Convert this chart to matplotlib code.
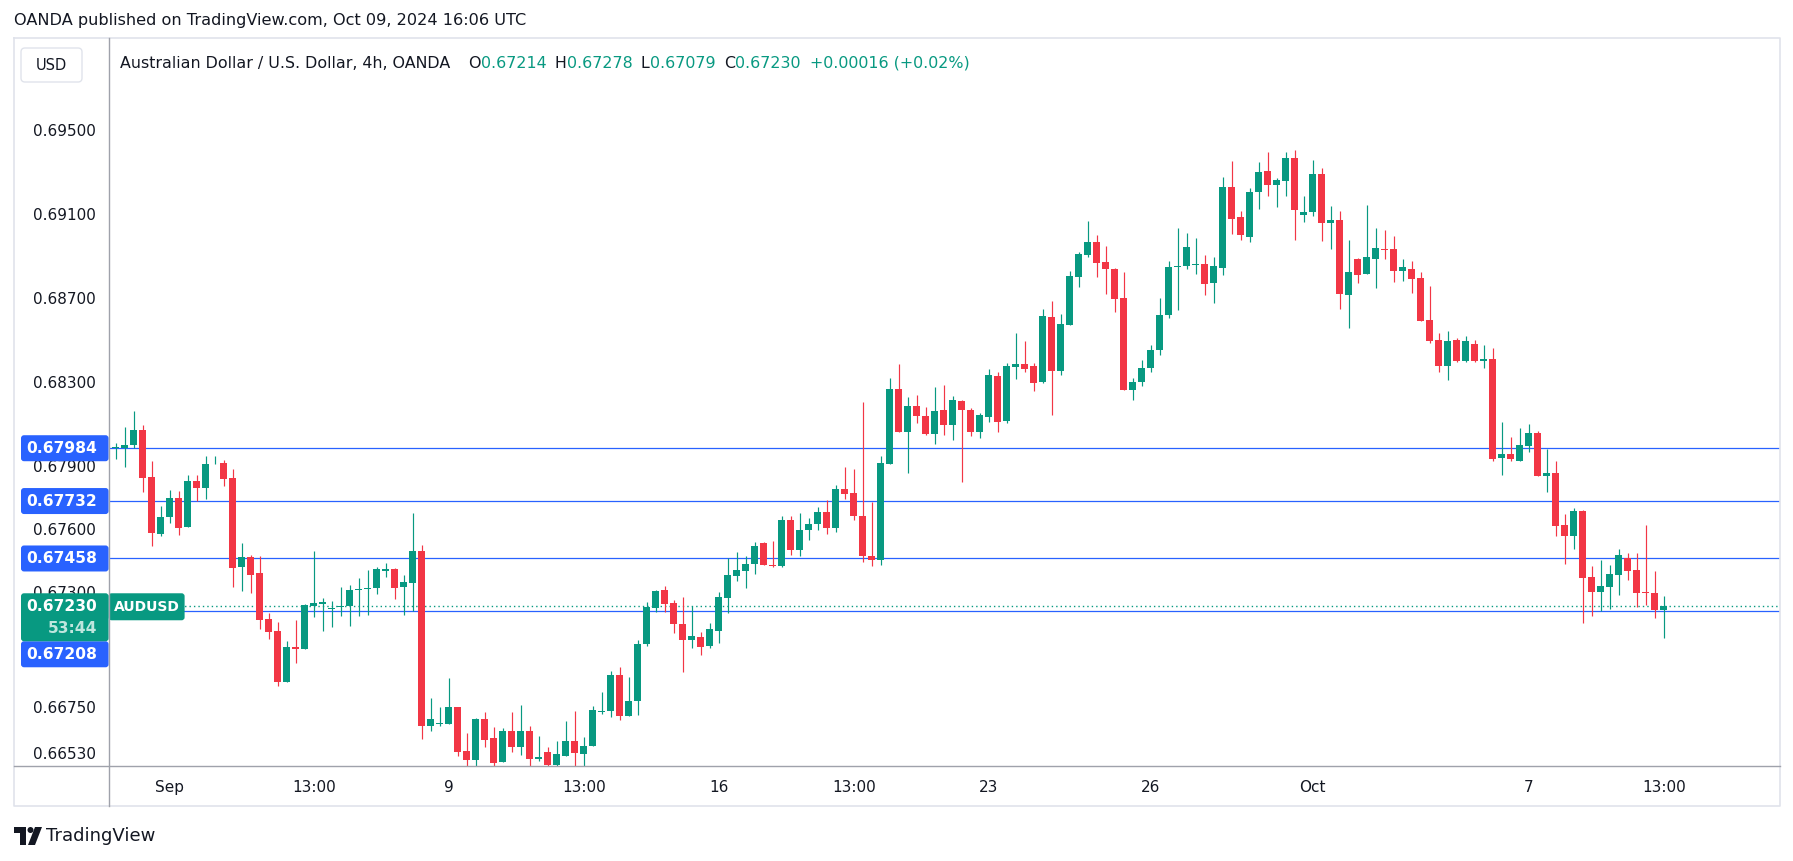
import numpy as np
import matplotlib
matplotlib.use('Agg')
import matplotlib.pyplot as plt
from matplotlib.patches import FancyBboxPatch, Polygon, Circle

# AUDUSD 4h candles, OANDA, Aug 29 17:00 -> Oct 09 13:00 (UTC)
opens = [0.68034, 0.67984, 0.67986, 0.67999, 0.68071, 0.67847, 0.67576, 0.67657, 0.67747, 0.67610,
         0.67828, 0.67796, 0.67907, 0.67913, 0.67842, 0.67419, 0.67465, 0.67389, 0.67169, 0.67112,
         0.66870, 0.67036, 0.67028, 0.67233, 0.67242, 0.67215, 0.67225, 0.67233, 0.67308, 0.67312,
         0.67317, 0.67400, 0.67408, 0.67323, 0.67343, 0.67494, 0.66660, 0.66670, 0.66670, 0.66750,
         0.66540, 0.66497, 0.66692, 0.66602, 0.66489, 0.66635, 0.66560, 0.66635, 0.66503, 0.66535,
         0.66473, 0.66517, 0.66587, 0.66527, 0.66564, 0.66726, 0.66731, 0.66902, 0.66708, 0.66778,
         0.67050, 0.67222, 0.67308, 0.67246, 0.67147, 0.67071, 0.67084, 0.67040, 0.67112, 0.67271,
         0.67374, 0.67398, 0.67432, 0.67532, 0.67427, 0.67422, 0.67642, 0.67499, 0.67594, 0.67623,
         0.67680, 0.67603, 0.67789, 0.67770, 0.67661, 0.67470, 0.67451, 0.67910, 0.68266, 0.68063,
         0.68185, 0.68138, 0.68053, 0.68166, 0.68096, 0.68209, 0.68166, 0.68061, 0.68133, 0.68328,
         0.68114, 0.68371, 0.68386, 0.68376, 0.68300, 0.68610, 0.68352, 0.68572, 0.68801, 0.68906,
         0.68968, 0.68872, 0.68839, 0.68701, 0.68262, 0.68300, 0.68367, 0.68453, 0.68619, 0.68848,
         0.68853, 0.68859, 0.68864, 0.68772, 0.68844, 0.69230, 0.69087, 0.68991, 0.69206, 0.69306,
         0.69240, 0.69259, 0.69368, 0.69098, 0.69111, 0.69292, 0.69060, 0.69073, 0.68715, 0.68887,
         0.68815, 0.68887, 0.68934, 0.68934, 0.68829, 0.68839, 0.68796, 0.68596, 0.68500, 0.68376,
         0.68500, 0.68400, 0.68481, 0.68401, 0.68410, 0.67939, 0.67957, 0.67923, 0.67995, 0.68057,
         0.67851, 0.67866, 0.67619, 0.67567, 0.67686, 0.67370, 0.67298, 0.67322, 0.67379, 0.67460,
         0.67403, 0.67298, 0.67293, 0.67214]
highs = [0.68042, 0.68010, 0.68084, 0.68162, 0.68095, 0.67923, 0.67708, 0.67785, 0.67780, 0.67856,
         0.67856, 0.67947, 0.67947, 0.67928, 0.67885, 0.67530, 0.67475, 0.67470, 0.67197, 0.67156,
         0.67064, 0.67165, 0.67241, 0.67494, 0.67270, 0.67255, 0.67322, 0.67332, 0.67365, 0.67403,
         0.67419, 0.67436, 0.67413, 0.67379, 0.67675, 0.67522, 0.66793, 0.66750, 0.66889, 0.66750,
         0.66626, 0.66697, 0.66726, 0.66654, 0.66649, 0.66726, 0.66759, 0.66659, 0.66611, 0.66559,
         0.66587, 0.66683, 0.66731, 0.66606, 0.66754, 0.66821, 0.66921, 0.66940, 0.66893, 0.67069,
         0.67250, 0.67308, 0.67327, 0.67260, 0.67274, 0.67231, 0.67107, 0.67150, 0.67298, 0.67460,
         0.67489, 0.67470, 0.67537, 0.67537, 0.67541, 0.67661, 0.67661, 0.67675, 0.67651, 0.67704,
         0.67737, 0.67809, 0.67894, 0.67885, 0.68204, 0.67727, 0.67947, 0.68319, 0.68386, 0.68228,
         0.68238, 0.68181, 0.68276, 0.68286, 0.68233, 0.68214, 0.68176, 0.68152, 0.68362, 0.68348,
         0.68390, 0.68534, 0.68495, 0.68390, 0.68648, 0.68686, 0.68624, 0.68829, 0.68920, 0.69068,
         0.69001, 0.68949, 0.68844, 0.68825, 0.68319, 0.68405, 0.68476, 0.68700, 0.68877, 0.69034,
         0.69011, 0.68987, 0.68906, 0.68896, 0.69278, 0.69354, 0.69116, 0.69225, 0.69349, 0.69397,
         0.69273, 0.69397, 0.69407, 0.69187, 0.69359, 0.69321, 0.69140, 0.69116, 0.68977, 0.68891,
         0.69144, 0.69034, 0.69025, 0.68996, 0.68887, 0.68877, 0.68825, 0.68758, 0.68534, 0.68543,
         0.68510, 0.68519, 0.68500, 0.68476, 0.68462, 0.68109, 0.68038, 0.68080, 0.68100, 0.68066,
         0.67982, 0.67923, 0.67672, 0.67697, 0.67689, 0.67422, 0.67452, 0.67427, 0.67503, 0.67484,
         0.67484, 0.67618, 0.67398, 0.67278]
lows = [0.67976, 0.67933, 0.67896, 0.67986, 0.67777, 0.67519, 0.67567, 0.67629, 0.67571, 0.67610,
        0.67732, 0.67743, 0.67907, 0.67805, 0.67323, 0.67304, 0.67295, 0.67123, 0.67075, 0.66851,
        0.66870, 0.66961, 0.67028, 0.67180, 0.67114, 0.67133, 0.67185, 0.67137, 0.67185, 0.67188,
        0.67290, 0.67371, 0.67266, 0.67190, 0.67208, 0.66596, 0.66637, 0.66660, 0.66670, 0.66517,
        0.66468, 0.66468, 0.66560, 0.66468, 0.66489, 0.66535, 0.66522, 0.66468, 0.66492, 0.66463,
        0.66463, 0.66517, 0.66468, 0.66468, 0.66564, 0.66718, 0.66703, 0.66689, 0.66708, 0.66711,
        0.67041, 0.67205, 0.67205, 0.67104, 0.66918, 0.67031, 0.66999, 0.67031, 0.67056, 0.67199,
        0.67351, 0.67317, 0.67384, 0.67427, 0.67417, 0.67417, 0.67475, 0.67470, 0.67546, 0.67594,
        0.67575, 0.67584, 0.67742, 0.67642, 0.67441, 0.67422, 0.67427, 0.67910, 0.68063, 0.67867,
        0.68106, 0.68048, 0.68006, 0.68048, 0.68025, 0.67823, 0.68042, 0.68033, 0.68109, 0.68061,
        0.68104, 0.68314, 0.68348, 0.68257, 0.68295, 0.68142, 0.68333, 0.68572, 0.68753, 0.68896,
        0.68801, 0.68720, 0.68634, 0.68262, 0.68214, 0.68281, 0.68348, 0.68429, 0.68605, 0.68643,
        0.68839, 0.68815, 0.68715, 0.68677, 0.68810, 0.69006, 0.68977, 0.68968, 0.69125, 0.69187,
        0.69135, 0.69187, 0.68977, 0.69063, 0.69092, 0.68972, 0.68934, 0.68648, 0.68557, 0.68772,
        0.68815, 0.68748, 0.68887, 0.68777, 0.68782, 0.68725, 0.68591, 0.68486, 0.68348, 0.68309,
        0.68395, 0.68395, 0.68395, 0.68368, 0.67923, 0.67856, 0.67923, 0.67923, 0.67966, 0.67851,
        0.67775, 0.67567, 0.67433, 0.67504, 0.67150, 0.67184, 0.67208, 0.67217, 0.67284, 0.67355,
        0.67227, 0.67236, 0.67174, 0.67079]
closes = [0.67984, 0.67990, 0.67999, 0.68071, 0.67843, 0.67581, 0.67656, 0.67747, 0.67605, 0.67828,
          0.67796, 0.67909, 0.67910, 0.67839, 0.67414, 0.67465, 0.67381, 0.67166, 0.67109, 0.66870,
          0.67036, 0.67028, 0.67235, 0.67246, 0.67250, 0.67223, 0.67231, 0.67308, 0.67312, 0.67317,
          0.67408, 0.67408, 0.67319, 0.67346, 0.67494, 0.66660, 0.66692, 0.66675, 0.66750, 0.66535,
          0.66497, 0.66692, 0.66594, 0.66484, 0.66635, 0.66560, 0.66635, 0.66503, 0.66511, 0.66473,
          0.66525, 0.66587, 0.66532, 0.66564, 0.66735, 0.66731, 0.66902, 0.66708, 0.66778, 0.67050,
          0.67227, 0.67303, 0.67242, 0.67147, 0.67071, 0.67088, 0.67037, 0.67122, 0.67274, 0.67379,
          0.67403, 0.67432, 0.67518, 0.67427, 0.67422, 0.67642, 0.67499, 0.67594, 0.67623, 0.67680,
          0.67603, 0.67789, 0.67766, 0.67661, 0.67470, 0.67451, 0.67913, 0.68266, 0.68063, 0.68185,
          0.68139, 0.68053, 0.68162, 0.68096, 0.68214, 0.68166, 0.68061, 0.68142, 0.68333, 0.68109,
          0.68376, 0.68386, 0.68362, 0.68295, 0.68615, 0.68352, 0.68577, 0.68805, 0.68910, 0.68968,
          0.68868, 0.68839, 0.68696, 0.68262, 0.68300, 0.68367, 0.68453, 0.68619, 0.68848, 0.68853,
          0.68944, 0.68864, 0.68767, 0.68853, 0.69230, 0.69077, 0.69001, 0.69206, 0.69302, 0.69240,
          0.69263, 0.69368, 0.69120, 0.69111, 0.69292, 0.69060, 0.69073, 0.68720, 0.68825, 0.68810,
          0.68896, 0.68939, 0.68930, 0.68829, 0.68848, 0.68791, 0.68591, 0.68495, 0.68376, 0.68495,
          0.68400, 0.68495, 0.68400, 0.68411, 0.67933, 0.67957, 0.67933, 0.67999, 0.68057, 0.67851,
          0.67866, 0.67614, 0.67567, 0.67686, 0.67365, 0.67298, 0.67327, 0.67384, 0.67475, 0.67398,
          0.67293, 0.67293, 0.67214, 0.67230]

# time axis labels (candle index -> label)
tick_pos = [7, 23, 38, 53, 68, 83, 98, 116, 134, 158, 173]
tick_text = ['Sep', '13:00', '9', '13:00', '16', '13:00', '23', '26', 'Oct', '7', '13:00']
# price scale labels shown by TradingView
price_ticks = [0.69500, 0.69100, 0.68700, 0.68300, 0.67900, 0.67600, 0.67300, 0.66750, 0.66530]
# horizontal lines drawn on the chart
levels = [0.67984, 0.67732, 0.67458, 0.67208]
countdown = '53:44'

UP = '#089981'
DOWN = '#F23645'
BLUE = '#2962FF'
TXT = '#131722'
plt.rcParams['font.family'] = 'DejaVu Sans'

W, H = 1793, 861
fig = plt.figure(figsize=(W / 100, H / 100), dpi=100)
fig.patch.set_facecolor('white')

################# CANDLES ##################
ax = fig.add_axes([108.6 / W, 1 - 766 / H, (1780 - 108.6) / W, (766 - 38) / H])
o = np.array(opens)
h = np.array(highs)
l = np.array(lows)
c = np.array(closes)
idx = np.arange(len(c))
cols = np.where(c >= o, UP, DOWN)

ax.vlines(idx, l, h, colors=cols, linewidth=0.85, zorder=3)
ax.bar(idx, np.maximum(np.abs(c - o), 0.00004), bottom=np.minimum(o, c),
       width=0.78, color=cols, linewidth=0, zorder=4)

for lv in levels:
    ax.axhline(lv, color=BLUE, linewidth=0.9, zorder=2)
ax.axhline(c[-1], color=UP, linewidth=1.0, linestyle=(0, (1, 2.2)), zorder=2)

ax.set_xlim(0.21, 185.9)
ax.set_ylim(0.66468, 0.69941)
for s in ax.spines.values():
    s.set_visible(False)
ax.set_yticks(price_ticks)
ax.set_yticklabels(['%.5f' % p for p in price_ticks])
ax.set_xticks(tick_pos)
ax.set_xticklabels(tick_text)
ax.tick_params(axis='y', length=0, pad=9, labelsize=11, labelcolor=TXT)
ax.tick_params(axis='x', length=0, pad=10, labelsize=11, labelcolor=TXT)


def py(price):
    # pixel row (from top) of a price on the chart
    return H - ax.transData.transform((0, price))[1]


################# OVERLAY (frame, labels) ##################
ov = fig.add_axes([0, 0, 1, 1], zorder=5)
ov.set_xlim(0, W)
ov.set_ylim(H, 0)
ov.axis('off')

frame = '#E0E3EB'
sep = '#9FA2AB'
ov.plot([14, 1780, 1780, 14, 14], [38, 38, 806, 806, 38], color=frame, lw=1.2)
ov.plot([108.6, 108.6], [38, 806], color=sep, lw=1.0)
ov.plot([14, 1780], [766, 766], color=sep, lw=1.0)

ov.text(14, 21, 'OANDA published on TradingView.com, Oct 09, 2024 16:06 UTC',
        fontsize=11.6, color=TXT, va='center', ha='left')

# USD button
ov.add_patch(FancyBboxPatch((21, 48), 61, 34, boxstyle='round,pad=0,rounding_size=4',
                            fc='white', ec=frame, lw=1))
ov.text(51.5, 65.5, 'USD', fontsize=10.5, color=TXT, ha='center', va='center')

# legend row
chg = c[-1] - c[-2]
legend = [(120, 'Australian Dollar / U.S. Dollar, 4h, OANDA', TXT),
          (468, 'O', TXT), (481, '%.5f' % o[-1], UP),
          (555, 'H', TXT), (567, '%.5f' % h[-1], UP),
          (640, 'L', TXT), (650, '%.5f' % l[-1], UP),
          (724, 'C', TXT), (735, '%.5f' % c[-1], UP),
          (810, '%+.5f (%+.2f%%)' % (chg, chg / c[-2] * 100), UP)]
for x, s, col in legend:
    ov.text(x, 63.5, s, fontsize=11.4, color=col, ha='left', va='center')

# price labels on the left scale
for lv in levels[:3]:
    y = py(lv)
    ov.add_patch(FancyBboxPatch((21, y - 13), 87.6, 26, boxstyle='round,pad=0,rounding_size=3',
                                fc=BLUE, ec='none'))
    ov.text(97, y, '%.5f' % lv, fontsize=11.2, color='white', weight='bold', ha='right', va='center')

yc = py(c[-1])
ov.add_patch(FancyBboxPatch((21, yc + 35), 87.6, 26, boxstyle='round,pad=0,rounding_size=3',
                            fc=BLUE, ec='none'))
ov.text(97, yc + 48, '%.5f' % levels[3], fontsize=11.2, color='white', weight='bold',
        ha='right', va='center')
ov.add_patch(FancyBboxPatch((21, yc - 13), 87.6, 48, boxstyle='round,pad=0,rounding_size=3',
                            fc=UP, ec='none'))
ov.text(97, yc, '%.5f' % c[-1], fontsize=11.2, color='white', weight='bold', ha='right', va='center')
ov.text(97, yc + 22, countdown, fontsize=11.2, color='#BFE6DE', weight='bold', ha='right', va='center')
ov.add_patch(FancyBboxPatch((108.6, yc - 13), 76, 27, boxstyle='round,pad=0,rounding_size=3',
                            fc=UP, ec='none'))
ov.text(146.5, yc + 0.5, 'AUDUSD', fontsize=10, color='white', weight='bold', ha='center', va='center')

# TradingView logo
ov.add_patch(Polygon([(14, 827), (26, 827), (26, 845), (20, 845), (20, 833), (14, 833)],
                     closed=True, fc=TXT, ec='none'))
ov.add_patch(Circle((30.5, 830), 3, fc=TXT, ec='none'))
ov.add_patch(Polygon([(28, 845), (35, 827), (42, 827), (35, 845)], closed=True, fc=TXT, ec='none'))
ov.text(46, 836, 'TradingView', fontsize=13, color=TXT, ha='left', va='center')

fig.savefig('out.png', dpi=100, facecolor='white')
